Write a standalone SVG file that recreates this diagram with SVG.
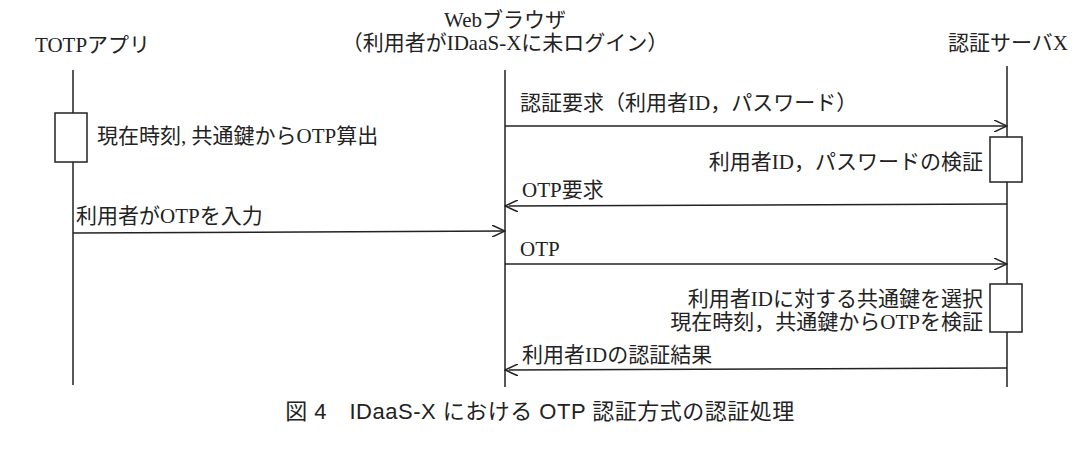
<svg xmlns="http://www.w3.org/2000/svg" width="1078" height="454" viewBox="0 0 1078 454">
<style>
text{font-family:"Liberation Serif","Noto Sans CJK JP",serif;font-size:21px;fill:#222}
.cap{font-family:"Liberation Sans Narrow","Liberation Sans","Noto Sans CJK JP",sans-serif;font-size:22px;letter-spacing:0.5px}
.l{stroke:#222;stroke-width:1.5;fill:none}
.b{stroke:#222;stroke-width:1.5;fill:#fff}
</style>
<defs><marker id="a" markerWidth="14" markerHeight="12" refX="13" refY="6" orient="auto" markerUnits="userSpaceOnUse"><path d="M0,0 L13,6 L0,12" fill="none" stroke="#222" stroke-width="1.5"/></marker></defs>
<g id="totp"><text x="35" y="52">TOTPアプリ</text><line class="l" x1="73" y1="70" x2="73" y2="385"/><rect class="b" x="55" y="113" width="32" height="49"/><text x="97" y="143">現在時刻, 共通鍵からOTP算出</text></g>
<g id="browser"><text x="505" y="27" text-anchor="middle">Webブラウザ</text><text x="505" y="50" text-anchor="middle">（利用者がIDaaS-Xに未ログイン）</text><line class="l" x1="505" y1="70" x2="505" y2="387"/></g>
<g id="server"><text x="1068" y="50" text-anchor="end">認証サーバX</text><line class="l" x1="1007" y1="66" x2="1007" y2="387"/><rect class="b" x="990" y="137" width="32" height="45"/><rect class="b" x="990" y="284" width="32" height="48"/><text x="983" y="169" text-anchor="end">利用者ID，パスワードの検証</text><text x="983" y="306" text-anchor="end">利用者IDに対する共通鍵を選択</text><text x="983" y="329" text-anchor="end">現在時刻，共通鍵からOTPを検証</text></g>
<g id="connectors">
<line class="l" x1="505" y1="126" x2="1007" y2="126" marker-end="url(#a)"/><text x="520" y="110">認証要求（利用者ID，パスワード）</text>
<line class="l" x1="1007" y1="204" x2="505" y2="206" marker-end="url(#a)"/><text x="522" y="197">OTP要求</text>
<line class="l" x1="73" y1="233" x2="505" y2="231" marker-end="url(#a)"/><text x="76" y="223">利用者がOTPを入力</text>
<line class="l" x1="505" y1="264" x2="1007" y2="264" marker-end="url(#a)"/><text x="520" y="256">OTP</text>
<line class="l" x1="1007" y1="368" x2="505" y2="370" marker-end="url(#a)"/><text x="522" y="362">利用者IDの認証結果</text>
</g>
<text class="cap" x="540" y="419" text-anchor="middle" xml:space="preserve">図 4　IDaaS-X における OTP 認証方式の認証処理</text>
</svg>
